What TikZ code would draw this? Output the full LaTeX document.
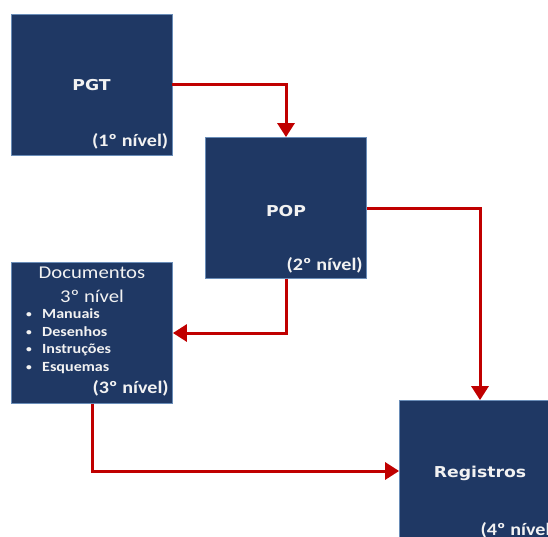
\documentclass[tikz,border=0pt]{standalone}
\usepackage{fontspec}
\usetikzlibrary{arrows.meta,calc}
\setmainfont{Carlito}[FakeStretch=1.15]
\newfontfamily\titlefont{DejaVu Sans}[FakeStretch=1.15]
\definecolor{boxfill}{HTML}{1F3864}
\definecolor{boxline}{HTML}{6A8DB8}
\definecolor{flowred}{HTML}{C00000}
\definecolor{boxtext}{HTML}{F2F2F2}
\newcommand{\listdot}{\makebox[16pt][l]{\raisebox{1pt}{\fontsize{10}{10}\selectfont•}}}
\tikzset{
  level/.style={rectangle, draw=boxline, line width=0.8pt, fill=boxfill,
    minimum width=161pt, minimum height=141pt, inner sep=0pt},
  title/.style={text=boxtext, font=\titlefont\bfseries\fontsize{15}{17}\selectfont},
  tag/.style={text=boxtext, font=\bfseries\fontsize{17.5}{19}\selectfont,
    anchor=south east, inner sep=0pt},
  headline/.style={text=boxtext, font=\fontsize{18}{20}\selectfont, inner sep=0pt},
  itemline/.style={text=boxtext, font=\bfseries\fontsize{14}{16}\selectfont,
    anchor=west, inner sep=0pt},
  flow/.style={draw=flowred, line width=3pt,
    -{Triangle[width=17pt,length=14pt]}}
}
\begin{document}
\begin{tikzpicture}[x=1pt,y=-1pt]
\useasboundingbox (0,0) rectangle (548,536);
\clip (0,0) rectangle (548,536);

% the four level boxes
\node[level] (pgt)  at (91.5,84.5) {};
\node[level] (pop)  at (286,208)   {};
\node[level] (docs) at (92,333)    {};
\node[level] (reg)  at (480,471)   {};

% box titles
\node[title] (pgtT) at (91.5,85) {PGT};
\node[title] (popT) at (286,211) {POP};
\node[title] (regT) at (480,473) {Registros};

% level tags in the lower right corners
\node[tag] (pgtL) at ($(pgt.south east)+(-4,-6)$) {(1º nível)};
\node[tag] (popL) at ($(pop.south east)+(-4,-6)$) {(2º nível)};
\node[tag] (docL) at ($(docs.south east)+(-4,-8)$) {(3º nível)};
\node[tag] (regL) at ($(reg.south east)+(-4,-4)$) {(4º nível)};

% document list
\node[headline] (docH1) at (92,273) {Documentos};
\node[headline] (docH2) at (92,296) {3º nível};
\node[itemline] (it1) at (26,314) {\listdot Manuais};
\node[itemline] (it2) at (26,332) {\listdot Desenhos};
\node[itemline] (it3) at (26,350) {\listdot Instruções};
\node[itemline] (it4) at (26,368) {\listdot Esquemas};

% connectors
\draw[flow] (pgt.east) -| (pop.north);
\draw[flow] (pop.east) -| (reg.north);
\draw[flow] (pop.south) |- (docs.east);
\draw[flow] (docs.south) |- (reg.west);
\end{tikzpicture}
\end{document}
